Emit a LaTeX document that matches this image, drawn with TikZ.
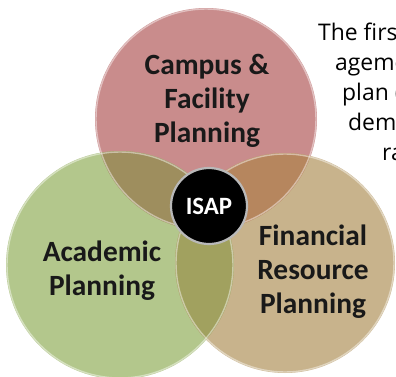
\documentclass[tikz,border=0pt]{standalone}
\usepackage{fontspec}
\setmainfont{Carlito}
\newfontfamily\sidefont{Open Sans}
\definecolor{cRed}{HTML}{C98C8C}
\definecolor{cGreen}{HTML}{B3C78C}
\definecolor{cTan}{HTML}{C8B38C}
\definecolor{cRG}{HTML}{9E8E5E}
\definecolor{cRT}{HTML}{B6865E}
\definecolor{cGT}{HTML}{A1A15F}
\definecolor{cRGT}{HTML}{8E7E50}
\begin{document}
\begin{tikzpicture}[x=1bp,y=-1bp,
  lbl/.style={font=\fontsize{29.5}{34}\selectfont\bfseries, text=black!90, align=center, inner sep=0pt},
  side/.style={font=\sidefont\fontsize{23}{30}\selectfont, anchor=base west, inner sep=0pt},
  rim/.style={draw=white, draw opacity=0.45, line width=1.4pt}]
\useasboundingbox (0,0) rectangle (396,377);
\clip (0,0) rectangle (396,377);
\fill[white] (0,0) rectangle (396,377);
% circle centres
\coordinate (R) at (206,119);
\coordinate (G) at (120,265);
\coordinate (T) at (285,263);
\def\rr{111}\def\rg{114}\def\rt{110}
\fill[cRed] (R) circle[radius=\rr];
\fill[cGreen] (G) circle[radius=\rg];
\fill[cTan] (T) circle[radius=\rt];
\begin{scope}
  \clip (R) circle[radius=\rr];
  \fill[cRG] (G) circle[radius=\rg];
  \fill[cRT] (T) circle[radius=\rt];
\end{scope}
\begin{scope}
  \clip (G) circle[radius=\rg];
  \fill[cGT] (T) circle[radius=\rt];
\end{scope}
\begin{scope}
  \clip (R) circle[radius=\rr];
  \clip (G) circle[radius=\rg];
  \fill[cRGT] (T) circle[radius=\rt];
\end{scope}
\draw[rim] (R) circle[radius=\rr-1];
\draw[rim] (G) circle[radius=\rg-1];
\draw[rim] (T) circle[radius=\rt-1];
% labels
\node[lbl] (campus) at (207,101) {Campus \&\\Facility\\Planning};
\node[lbl] (academic) at (102,271) {Academic\\Planning};
\node[lbl] (financial) at (313,272) {Financial\\Resource\\Planning};
% ISAP
\node[circle, fill=black, draw=gray!55, line width=2.2pt, minimum size=76bp, inner sep=0pt,
      text=white, font=\fontsize{25}{28}\selectfont\bfseries] (isap) at (209,206) {ISAP};
% side text (cut off at the right edge, as in the reference)
\node[side] (l1) at (318,40) {The firs};
\node[side] (l2) at (335,70) {ageme};
\node[side] (l3) at (342,100) {plan (};
\node[side] (l4) at (348,130) {demi};
\node[side] (l5) at (382,160) {ra};
\end{tikzpicture}
\end{document}
